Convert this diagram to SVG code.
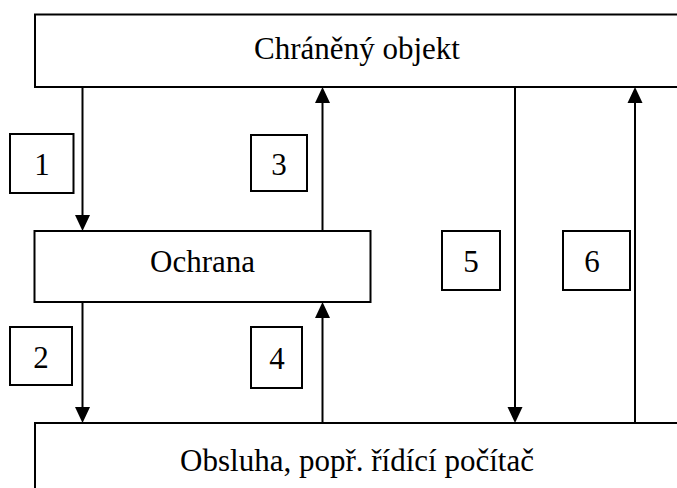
<svg xmlns="http://www.w3.org/2000/svg" width="677" height="488" viewBox="0 0 677 488">
<defs>
<style>
.box{fill:#fff;stroke:#000;stroke-width:2}
.nbox{fill:#fff;stroke:#000;stroke-width:2}
.conn{stroke:#000;stroke-width:2;fill:none}
.t{font-family:"Liberation Serif","Times New Roman",serif;font-size:31px;fill:#000;text-anchor:middle}
</style>
<marker id="ah" viewBox="0 -8 16 16" markerWidth="16" markerHeight="16" refX="0" refY="0" orient="auto" markerUnits="userSpaceOnUse">
<path d="M0,-7.5 L16,0 L0,7.5 z" fill="#000"/>
</marker>
</defs>
<rect width="677" height="488" fill="#fff"/>
<g id="connectors">
<line class="conn" x1="82.5" y1="87" x2="82.5" y2="215" marker-end="url(#ah)"/>
<line class="conn" x1="82.5" y1="302" x2="82.5" y2="407" marker-end="url(#ah)"/>
<line class="conn" x1="322.5" y1="231" x2="322.5" y2="103" marker-end="url(#ah)"/>
<line class="conn" x1="322.5" y1="423" x2="322.5" y2="318" marker-end="url(#ah)"/>
<line class="conn" x1="515" y1="87" x2="515" y2="407" marker-end="url(#ah)"/>
<line class="conn" x1="635" y1="423" x2="635" y2="103" marker-end="url(#ah)"/>
</g>
<g id="chraneny-objekt">
<rect class="box" x="35" y="14.5" width="700" height="72.5"/>
<text class="t" x="357" y="59">Chráněný objekt</text>
</g>
<g id="ochrana">
<rect class="box" x="34.5" y="231" width="336" height="71"/>
<text class="t" x="202.5" y="272">Ochrana</text>
</g>
<g id="obsluha">
<rect class="box" x="35" y="423" width="700" height="100"/>
<text class="t" x="357" y="471">Obsluha, popř. řídící počítač</text>
</g>
<g id="label-1">
<rect class="nbox" x="10" y="134" width="63.5" height="59"/>
<text class="t" x="42" y="175">1</text>
</g>
<g id="label-2">
<rect class="nbox" x="10" y="327" width="62" height="58"/>
<text class="t" x="41" y="368">2</text>
</g>
<g id="label-3">
<rect class="nbox" x="251" y="135" width="56" height="56"/>
<text class="t" x="279" y="175">3</text>
</g>
<g id="label-4">
<rect class="nbox" x="251" y="327" width="51" height="61"/>
<text class="t" x="277" y="369">4</text>
</g>
<g id="label-5">
<rect class="nbox" x="442" y="231" width="58" height="59"/>
<text class="t" x="471" y="272">5</text>
</g>
<g id="label-6">
<rect class="nbox" x="563" y="231" width="67" height="59"/>
<text class="t" x="592" y="272">6</text>
</g>
</svg>
